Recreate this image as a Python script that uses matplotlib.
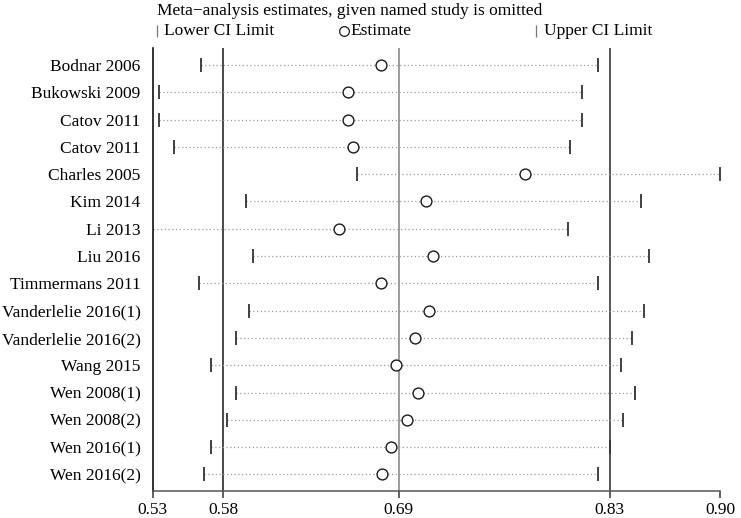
import matplotlib
matplotlib.use("Agg")
import matplotlib.pyplot as plt
from matplotlib.lines import Line2D

plt.rcParams['font.family'] = ['Liberation Serif', 'DejaVu Serif']

studies = ["Bodnar 2006", "Bukowski 2009", "Catov 2011", "Catov 2011", "Charles 2005",
           "Kim 2014", "Li 2013", "Liu 2016", "Timmermans 2011", "Vanderlelie 2016(1)",
           "Vanderlelie 2016(2)", "Wang 2015", "Wen 2008(1)", "Wen 2008(2)",
           "Wen 2016(1)", "Wen 2016(2)"]
lower = [0.562, 0.535, 0.535, 0.545, 0.663, 0.591, 0.531, 0.596, 0.561, 0.593,
         0.585, 0.569, 0.585, 0.579, 0.569, 0.564]
estimate = [0.678, 0.657, 0.657, 0.660, 0.771, 0.707, 0.651, 0.712, 0.678, 0.709,
            0.700, 0.688, 0.702, 0.695, 0.685, 0.679]
upper = [0.818, 0.808, 0.808, 0.800, 0.897, 0.846, 0.799, 0.851, 0.818, 0.848,
         0.840, 0.833, 0.842, 0.834, 0.826, 0.818]
pooled = [0.5766, 0.6896, 0.8255]   # lower CI, estimate, upper CI
tick_values = [0.531, 0.5766, 0.6896, 0.8255, 0.897]
tick_labels = ["0.53", "0.58", "0.69", "0.83", "0.90"]

FS = 12.5
W, H = 741, 518
fig = plt.figure(figsize=(W / 100, H / 100), dpi=100)
ax_l, ax_r, ax_t, ax_b = 152.5, 720.5, 48, 490.5
ax = fig.add_axes([ax_l / W, 1 - ax_b / H, (ax_r - ax_l) / W, (ax_b - ax_t) / H])

n = len(studies)
ys = list(range(n))

# pooled reference lines
ax.axvline(pooled[0], color='#2a2a2a', lw=1.2, zorder=1)
ax.axvline(pooled[1], color='#8a8a8a', lw=1.2, zorder=1)
ax.axvline(pooled[2], color='#3a3a3a', lw=1.2, zorder=1)

for y, lo, est, up in zip(ys, lower, estimate, upper):
    ax.plot([lo, up], [y, y], color='#9a9a9a', lw=0.9, ls=(0, (1, 2.0)), zorder=2)
ax.plot(lower, ys, ls='none', marker='|', markersize=10, mew=1.3, color='#333333', zorder=3)
ax.plot(upper, ys, ls='none', marker='|', markersize=10, mew=1.3, color='#333333', zorder=3)
ax.plot(estimate, ys, ls='none', marker='o', markersize=7.8, mfc='white', mec='#1a1a1a',
        mew=1.0, zorder=4)

ax.set_xlim(0.531, 0.897)
ax.set_ylim(15.59, -0.62)
ax.set_yticks(ys)
ax.set_yticklabels(studies, fontsize=FS)
ax.tick_params(axis='y', length=0, pad=8.5)
ax.set_xticks(tick_values)
ax.set_xticklabels(tick_labels, fontsize=FS)
ax.tick_params(axis='x', length=5, width=1.1, color='#333333', pad=3)

for s in ['top', 'right']:
    ax.spines[s].set_visible(False)
ax.spines['left'].set_color('#111111')
ax.spines['left'].set_linewidth(1.2)
ax.spines['bottom'].set_color('#555555')
ax.spines['bottom'].set_linewidth(1.1)

# title / legend
fig.text(157 / W, 1 - 11 / H, "Meta\u2212analysis estimates, given named study is omitted",
         fontsize=FS, ha='left', va='center')
ly = 1 - 31 / H
fig.add_artist(Line2D([157 / W], [ly], marker='|', markersize=8, mew=0.9, color='#777777',
                      ls='none', transform=fig.transFigure))
fig.text(164 / W, ly, "Lower CI Limit", fontsize=FS, ha='left', va='center')
fig.add_artist(Line2D([344 / W], [ly], marker='o', markersize=7, mfc='white', mec='#1a1a1a',
                      mew=0.9, ls='none', transform=fig.transFigure))
fig.text(350 / W, ly, "Estimate", fontsize=FS, ha='left', va='center')
fig.add_artist(Line2D([536 / W], [ly], marker='|', markersize=8, mew=0.9, color='#777777',
                      ls='none', transform=fig.transFigure))
fig.text(544 / W, ly, "Upper CI Limit", fontsize=FS, ha='left', va='center')

fig.savefig("out.png", dpi=100, facecolor='white')
